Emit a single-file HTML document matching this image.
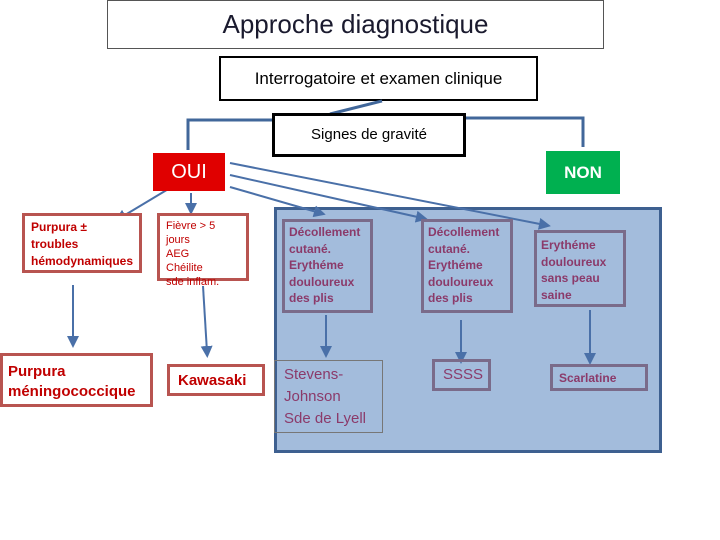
<!DOCTYPE html>
<html><head><meta charset="utf-8"><style>
body{margin:0;width:720px;height:540px;background:#fff;position:relative;overflow:hidden;font-family:"Liberation Sans",sans-serif}
.b{position:absolute;box-sizing:border-box}
.red{color:#c00000;border:3px solid #b85450;background:#fff;font-weight:bold}
.pu{color:#8b3a6a;border:3px solid #7a6b8a;font-weight:bold;font-size:12px;line-height:16.5px;padding:2px 4px}
svg{position:absolute;left:0;top:0}
</style></head><body>
<div class="b" style="left:107px;top:0;width:497px;height:49px;border:1px solid #555;text-align:center;font-size:26px;line-height:46px;color:#1a1a2e">Approche diagnostique</div>
<div class="b" style="left:219px;top:56px;width:319px;height:45px;border:2px solid #000;text-align:center;font-size:17px;line-height:41px">Interrogatoire et examen clinique</div>
<div class="b" style="left:274px;top:207px;width:388px;height:246px;background:#a3bcdc;border:3px solid #3e6090"></div>
<svg width="720" height="540">
<defs><marker id="a" markerWidth="6" markerHeight="6" refX="3" refY="3" orient="auto"><path d="M0,0L6,3L0,6z" fill="#4a70a8"/></marker></defs>
<g stroke="#41679a" stroke-width="3" fill="none">
<path d="M188,150V120H272"/><path d="M465,118H583V147"/><path d="M382,101L330,114"/>
</g>
<g stroke="#4a70a8" stroke-width="2" fill="none" marker-end="url(#a)">
<line x1="175" y1="185" x2="120" y2="218"/><line x1="191" y1="193" x2="191" y2="209"/>
<line x1="230" y1="163" x2="545" y2="225"/><line x1="230" y1="175" x2="422" y2="218"/><line x1="230" y1="187" x2="320" y2="213"/>
<line x1="73" y1="285" x2="73" y2="342"/><line x1="203" y1="286" x2="207" y2="352"/>
<line x1="326" y1="315" x2="326" y2="352"/><line x1="461" y1="320" x2="461" y2="358"/><line x1="590" y1="310" x2="590" y2="359"/>
</g></svg>
<div class="b" style="left:272px;top:113px;width:194px;height:44px;border:3px solid #000;background:#fff;text-align:center;font-size:15px;line-height:38px">Signes de gravité</div>
<div class="b" style="left:153px;top:153px;width:72px;height:38px;background:#e00000;color:#fff;text-align:center;font-size:20px;line-height:38px">OUI</div>
<div class="b" style="left:546px;top:151px;width:74px;height:43px;background:#00b050;color:#fff;text-align:center;font-size:17px;font-weight:bold;line-height:43px">NON</div>
<div class="b red" style="left:22px;top:213px;width:120px;height:60px;font-size:12px;line-height:17px;padding:3px 6px">Purpura ±<br>troubles<br>hémodynamiques</div>
<div class="b red" style="left:157px;top:213px;width:92px;height:68px;font-size:11px;line-height:14px;padding:3px 6px;font-weight:normal">Fièvre > 5 jours<br>AEG<br>Chéilite<br>sde inflam.</div>
<div class="b pu" style="left:282px;top:219px;width:91px;height:94px">Décollement<br>cutané.<br>Erythéme<br>douloureux<br>des plis</div>
<div class="b pu" style="left:421px;top:219px;width:92px;height:94px">Décollement<br>cutané.<br>Erythéme<br>douloureux<br>des plis</div>
<div class="b pu" style="left:534px;top:230px;width:92px;height:77px;padding-top:4px">Erythéme<br>douloureux<br>sans peau<br>saine</div>
<div class="b red" style="left:0;top:353px;width:153px;height:54px;font-size:15px;line-height:20px;padding:6px 5px">Purpura<br>méningococcique</div>
<div class="b red" style="left:167px;top:364px;width:98px;height:32px;font-size:15px;line-height:28px;padding-left:8px">Kawasaki</div>
<div class="b" style="left:274px;top:360px;width:109px;height:73px;border:1px solid #777;color:#8b3a6a;font-size:15px;line-height:22px;padding:3px 9px">Stevens-<br>Johnson<br>Sde de Lyell</div>
<div class="b" style="left:432px;top:359px;width:59px;height:32px;border:3px solid #7a6b8a;color:#8b3a6a;font-size:15px;line-height:26px;padding-left:8px">SSSS</div>
<div class="b pu" style="left:550px;top:364px;width:98px;height:27px;line-height:19px;padding-left:6px">Scarlatine</div>
</body></html>
